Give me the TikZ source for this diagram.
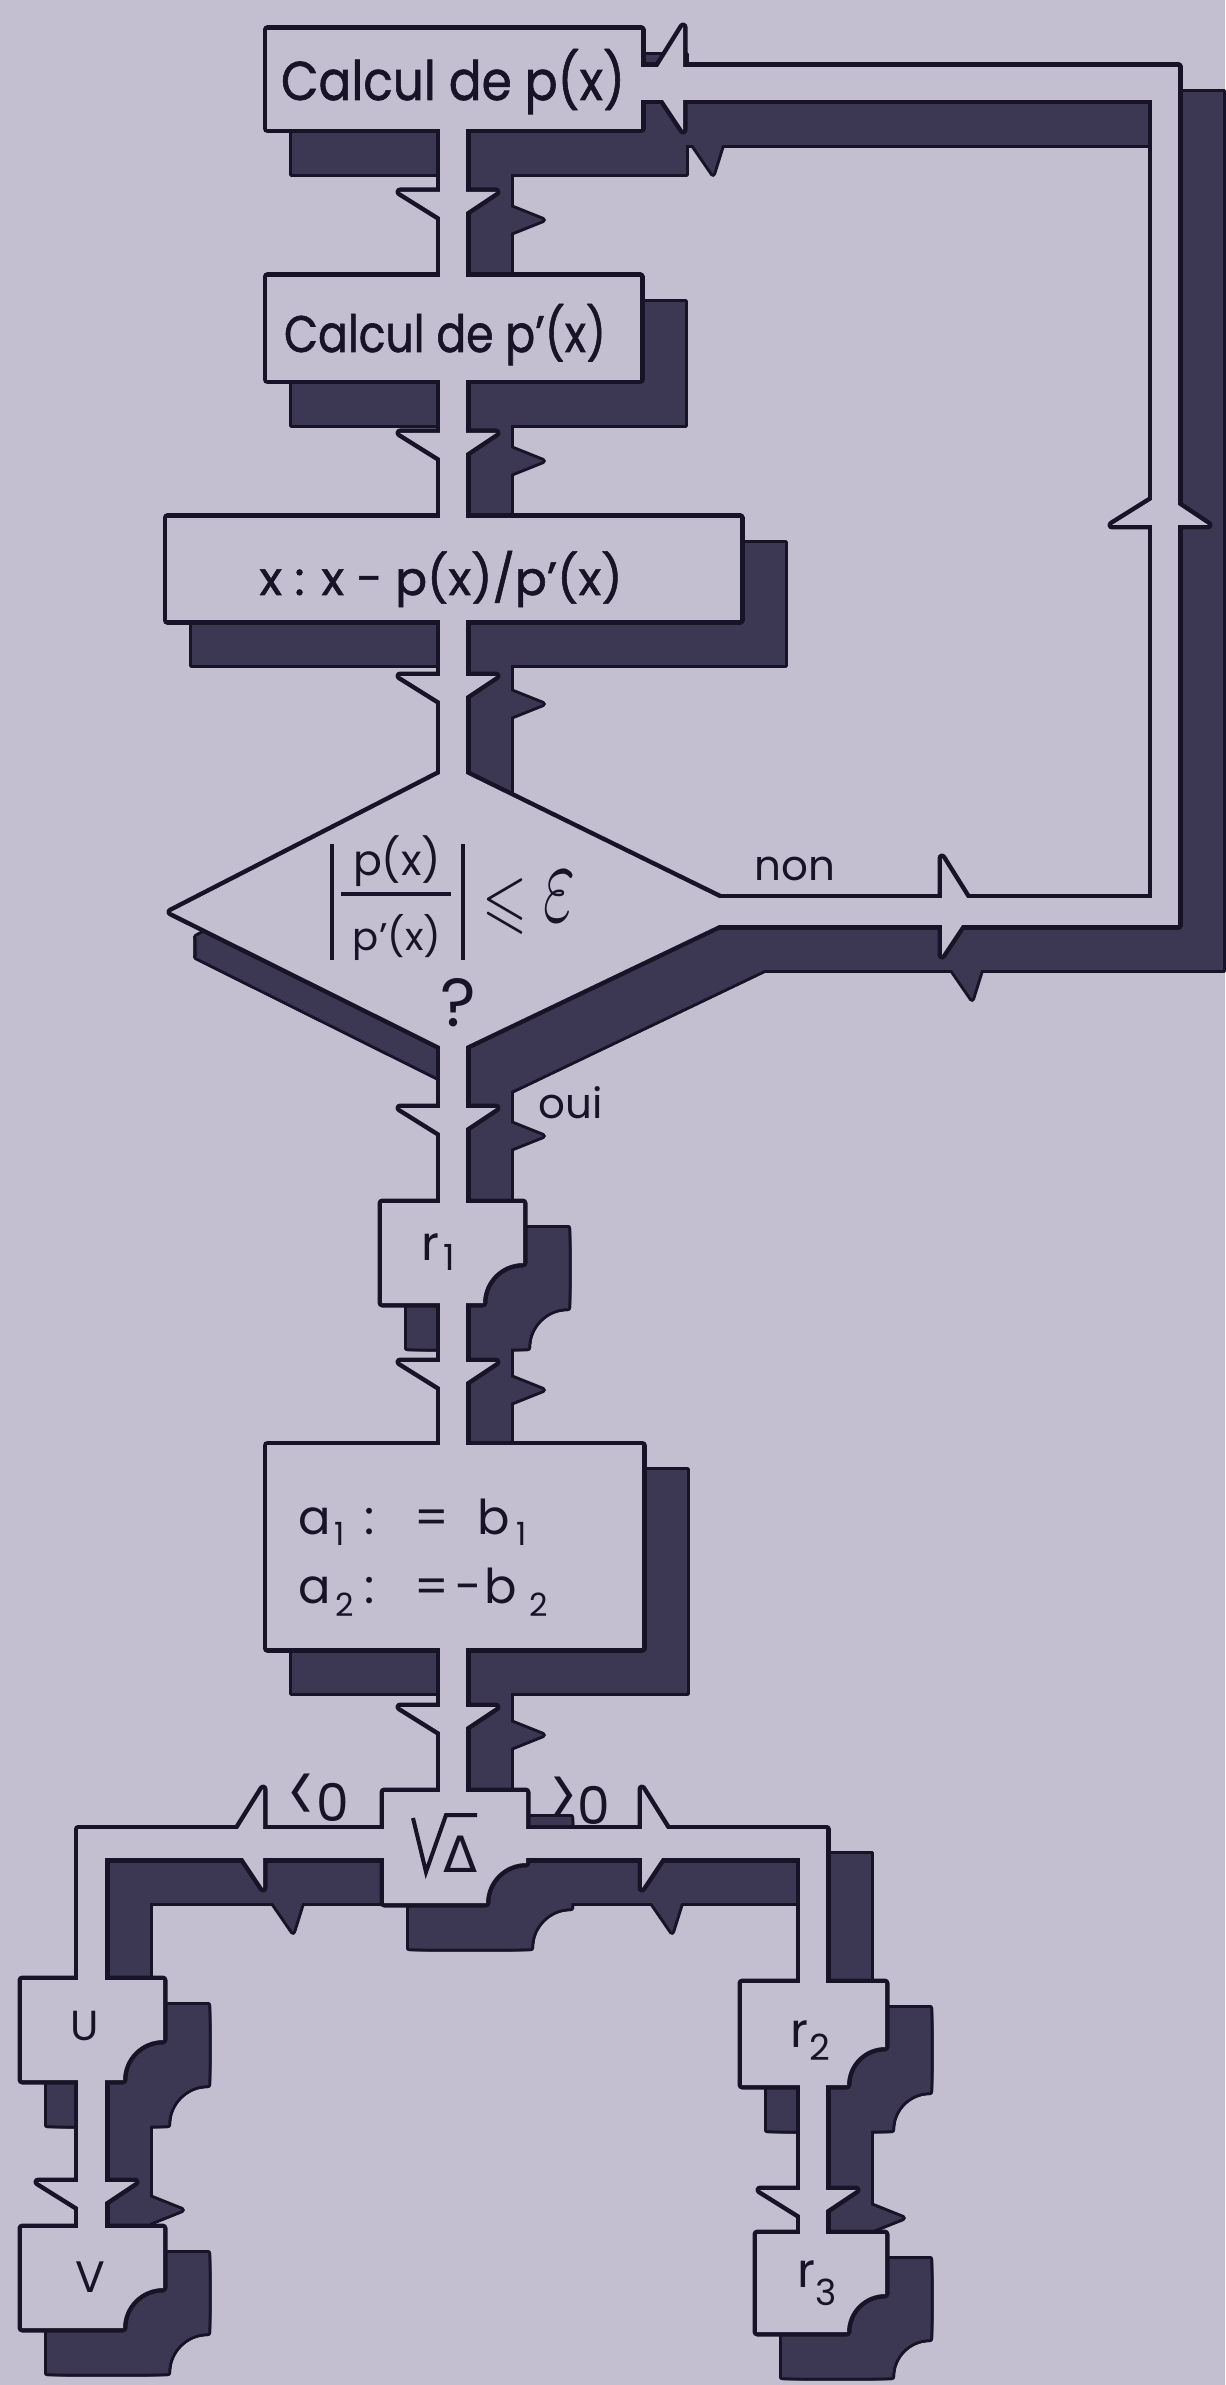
\documentclass[tikz,border=0pt]{standalone}
\usepackage{fontspec}
\usepackage{amsmath,amssymb}
\usepackage{graphicx}
\newfontfamily\pop{Poppins}
\newfontfamily\popb[FakeBold=1.2]{Poppins}
\newfontfamily\dvs{DejaVu Sans}
\definecolor{bgc}{RGB}{195,190,208}
\definecolor{shd}{RGB}{60,56,84}
\definecolor{ink}{RGB}{22,20,38}
% light-side barb size / dark-side barb size
\def\ea{40}\def\eL{25}
\def\da{30}\def\dL{20}
\newcommand\RBox[4]{\Cmd (#1,#2) rectangle (#3,#4);}
\newcommand\NBox[5]{\Cmd (#1,#2) -- (#3,#2) -- (#3,{#4-#5}) .. controls ({#3-0.5523*#5},{#4-#5}) and ({#3-#5},{#4-0.5523*#5}) .. ({#3-#5},#4) -- (#1,#4) -- cycle;}
% light-side barbs
\newcommand\LBdown[2]{\Cmd (#1,#2) -- ({#1-\ea},#2) -- (#1,{#2+\eL}) -- cycle;}
\newcommand\LBup[2]{\Cmd (#1,#2) -- ({#1-\ea},#2) -- (#1,{#2-\eL}) -- cycle;}
\newcommand\LBright[2]{\Cmd (#2,#1) -- (#2,{#1-\ea}) -- ({#2+\eL},#1) -- cycle;}
\newcommand\LBleft[2]{\Cmd (#2,#1) -- (#2,{#1-\ea}) -- ({#2-\eL},#1) -- cycle;}
% dark-side barbs
\newcommand\DBdown[2]{\Cmd (#1,#2) -- ({#1+\da},#2) -- (#1,{#2+\dL}) -- cycle;}
\newcommand\DBup[2]{\Cmd (#1,#2) -- ({#1+\da},#2) -- (#1,{#2-\dL}) -- cycle;}
\newcommand\DBright[2]{\Cmd (#2,#1) -- (#2,{#1+\da}) -- ({#2+\dL},#1) -- cycle;}
\newcommand\DBleft[2]{\Cmd (#2,#1) -- (#2,{#1+\da}) -- ({#2-\dL},#1) -- cycle;}
% shadow spikes of the barbs
\newcommand\SpV[2]{\Cmd ({#1+42},{#2+14}) -- ({#1+77},{#2+28}) -- ({#1+42},{#2+42}) -- cycle;}
\newcommand\SpH[2]{\Cmd ({#1+8},{#2+42}) -- ({#1+30},{#2+74}) -- ({#1+40},{#2+42}) -- cycle;}
\newcommand\Faces{%
  % boxes
  \RBox{267}{30}{641}{129}
  \RBox{267}{277}{640}{380}
  \RBox{167}{518}{740}{620}
  \Cmd (440,774) -- (466,774) -- (719,898) -- (719,925) -- (466,1046) -- (440,1046) -- (171,912) -- cycle;
  \NBox{382}{1203}{523}{1303}{40}
  \RBox{267}{1445}{642}{1648}
  \NBox{384}{1792}{526}{1903}{40}
  \NBox{22}{1980}{163}{2080}{40}
  \NBox{22}{2228}{163}{2328}{40}
  \NBox{742}{1983}{885}{2085}{38}
  \NBox{757}{2234}{885}{2332}{38}
  % pipes
  \RBox{440}{100}{466}{1800}
  \RBox{620}{67}{1178}{100}
  \RBox{1152}{67}{1178}{925}
  \RBox{700}{898}{1178}{925}
  \RBox{78}{1829}{400}{1858}
  \RBox{78}{1829}{105}{2240}
  \RBox{510}{1829}{826}{1858}
  \RBox{800}{1829}{826}{2245}
}
\newcommand\Barbs{%
  \LBdown{440}{192}\LBdown{440}{433}\LBdown{440}{676}
  \LBdown{440}{1108}\LBdown{440}{1362}\LBdown{440}{1707}
  \LBdown{78}{2182}\LBdown{800}{2190}
  \LBup{1152}{525}
  \LBleft{67}{683}\LBright{898}{942}
  \LBleft{1829}{263}\LBright{1829}{642}
  \DBdown{466}{192}\DBdown{466}{433}\DBdown{466}{676}
  \DBdown{466}{1108}\DBdown{466}{1362}\DBdown{466}{1707}
  \DBdown{105}{2182}\DBdown{826}{2190}
  \DBup{1178}{525}
  \DBleft{100}{683}\DBright{925}{942}
  \DBleft{1858}{263}\DBright{1858}{642}
}
\newcommand\Spikes{%
  \SpV{466}{192}\SpV{466}{433}\SpV{466}{676}
  \SpV{466}{1108}\SpV{466}{1362}\SpV{466}{1707}
  \SpV{105}{2182}\SpV{826}{2190}
  \SpH{683}{100}\SpH{942}{925}\SpH{263}{1858}\SpH{642}{1858}
}
\newcommand\Extrude{%
  \foreach \t in {25,27,...,45}{%
    \begin{scope}[shift={(\t,25)}]\Faces\end{scope}
    \begin{scope}[shift={(\t,45)}]\Faces\end{scope}
    \begin{scope}[shift={(25,\t)}]\Faces\end{scope}
    \begin{scope}[shift={(45,\t)}]\Faces\end{scope}
  }}
\tikzset{lbl/.style={inner sep=0pt, outer sep=0pt, text=ink}}
\begin{document}
\begin{tikzpicture}[x=0.5pt,y=-0.5pt]
\useasboundingbox (0,0) rectangle (1225,2385);
\fill[bgc] (0,0) rectangle (1225,2385);
% shadow (extrusion)
\def\Cmd{\filldraw[fill=shd,draw=ink,line width=3pt,line join=round]}
\Extrude
\Spikes
\def\Cmd{\fill[shd]}
\Extrude
\Spikes
% faces
\def\Cmd{\draw[ink,line width=4.5pt,line join=round]}
\Faces
\Barbs
\def\Cmd{\fill[bgc]}
\Faces
\Barbs
% texts
\node[lbl, anchor=base] (tA) at (453,100) {\resizebox{172pt}{25.5pt}{\popb Calcul de p(x)}};
\node[lbl, anchor=base] (tB) at (445,352) {\resizebox{161pt}{24pt}{\popb Calcul de p’(x)}};
\node[lbl, anchor=base] (tC) at (441,595) {\resizebox{181.5pt}{22pt}{\popb x : x - p(x)/p’(x)}};
% decision
\node[lbl, anchor=base] (num) at (397,875) {\resizebox{44pt}{!}{\pop p(x)}};
\node[lbl, anchor=base] (den) at (397,950) {\resizebox{44pt}{!}{\pop p’(x)}};
\draw[ink, line width=2pt] (341,894) -- (451,894);
\draw[ink, line width=2pt] (332,844) -- (332,960);
\draw[ink, line width=2pt] (463,844) -- (463,960);
\node[lbl] (leq) at (505,906) {\scalebox{2.9}[3.6]{$\leqslant$}};
\node[lbl] (eps) at (559,896) {\resizebox*{16pt}{25pt}{$\varepsilon$}};
\node[lbl] (q) at (458,1003) {\fontsize{34}{34}\pop ?};
\node[lbl] (non) at (795,869) {\fontsize{21}{21}\pop non};
\node[lbl] (oui) at (571,1103) {\fontsize{21}{21}\pop oui};
% r1
\node[lbl, anchor=base west] (r1) at (421,1260) {\fontsize{24}{24}\pop r};
\node[lbl, anchor=base west] (r1s) at (443,1270) {\fontsize{18}{18}\pop 1};
% a-box
\node[lbl, anchor=base west] (a1) at (298,1534) {\fontsize{24}{24}\pop a};
\node[lbl, anchor=base west] (a1s) at (334,1545) {\fontsize{16}{16}\pop 1};
\node[lbl, anchor=base west] (c1) at (364,1534) {\fontsize{24}{24}\pop :};
\node[lbl, anchor=base west] (e1) at (414,1534) {\fontsize{24}{24}\pop =};
\node[lbl, anchor=base west] (b1) at (477,1534) {\fontsize{24}{24}\pop b};
\node[lbl, anchor=base west] (b1s) at (516,1545) {\fontsize{16}{16}\pop 1};
\node[lbl, anchor=base west] (a2) at (298,1603) {\fontsize{24}{24}\pop a};
\node[lbl, anchor=base west] (a2s) at (335,1616) {\fontsize{16}{16}\pop 2};
\node[lbl, anchor=base west] (c2) at (364,1603) {\fontsize{24}{24}\pop :};
\node[lbl, anchor=base west] (e2) at (414,1603) {\fontsize{24}{24}\pop =};
\node[lbl, anchor=base west] (m2) at (455,1603) {\fontsize{24}{24}\pop -};
\node[lbl, anchor=base west] (b2) at (484,1603) {\fontsize{24}{24}\pop b};
\node[lbl, anchor=base west] (b2s) at (529,1616) {\fontsize{16}{16}\pop 2};
% sqrt delta
\draw[ink, line width=2pt, line join=miter] (413,1818) -- (426,1872) -- (446,1815) -- (477,1815);
\node[lbl] (dl) at (461,1854) {\fontsize{25}{25}\dvs Δ};
\node[lbl] (lt) at (318,1799) {\fontsize{26}{26}\pop\raisebox{-1pt}{\scalebox{1}[1.6]{<}}0};
\node[lbl] (gt) at (580,1802) {\fontsize{26}{26}\pop\raisebox{-1pt}{\scalebox{1}[1.6]{>}}0};
% leaves
\node[lbl] (u) at (85,2026) {\fontsize{21}{21}\pop U};
\node[lbl] (v) at (90,2277) {\fontsize{22}{22}\pop V};
\node[lbl, anchor=base west] (r2) at (790,2047) {\fontsize{24}{24}\pop r};
\node[lbl, anchor=base west] (r2s) at (809,2060) {\fontsize{18}{18}\pop 2};
\node[lbl, anchor=base west] (r3) at (797,2287) {\fontsize{24}{24}\pop r};
\node[lbl, anchor=base west] (r3s) at (815,2305) {\fontsize{18}{18}\pop 3};
\end{tikzpicture}
\end{document}
